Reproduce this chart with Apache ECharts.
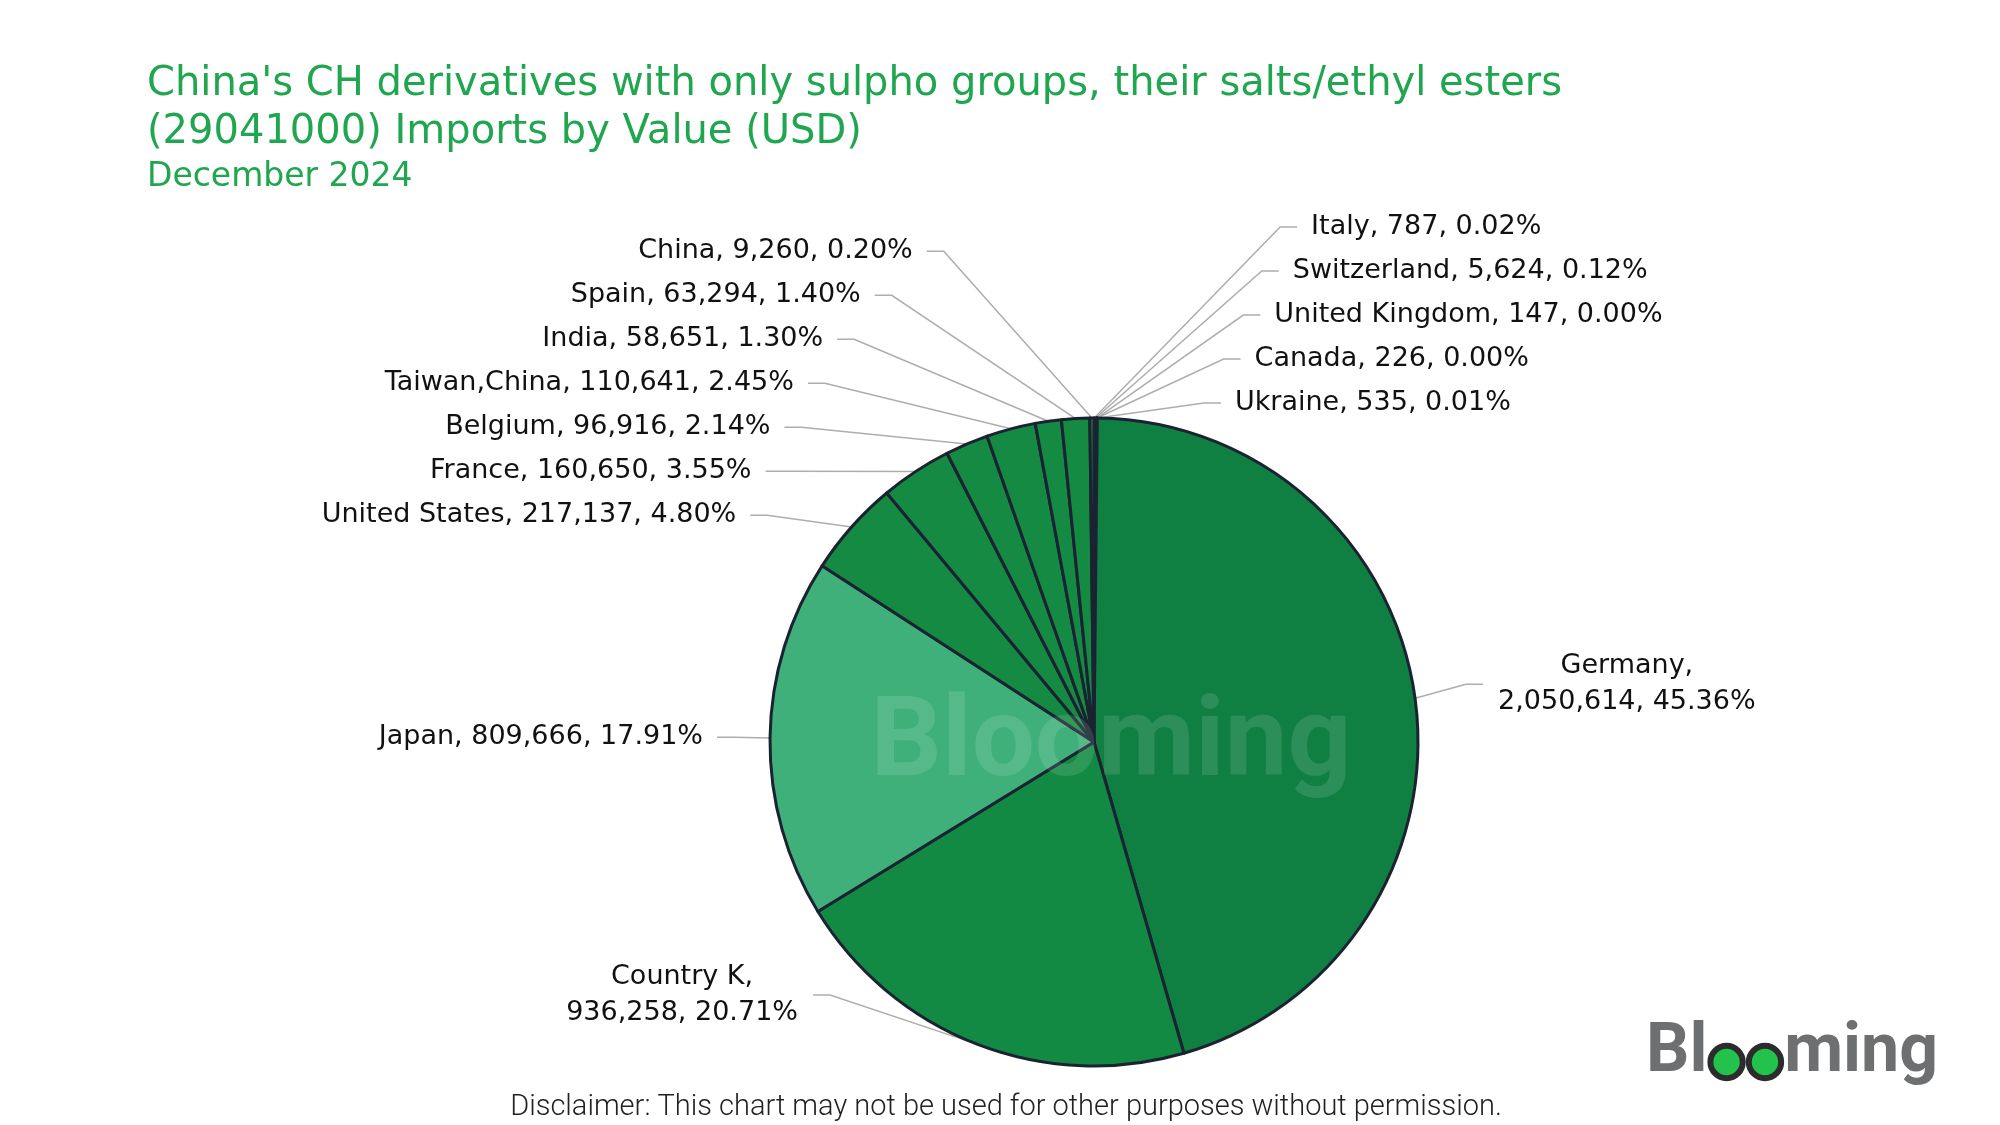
<!DOCTYPE html>
<html><head><meta charset="utf-8">
<script src="https://cdn.jsdelivr.net/npm/echarts@6/dist/echarts.min.js"></script>
<style>html,body{margin:0;padding:0;background:#fff}#c{width:2000px;height:1125px}</style>
</head><body><div id="c"></div>
<script>
const categories = ['Italy','Switzerland','United Kingdom','Canada','Ukraine','Germany','Country K','Japan','United States','France','Belgium','Taiwan,China','India','Spain','China'];
const values = [787,5624,147,226,535,2050614,936258,809666,217137,160650,96916,110641,58651,63294,9260];
const sliceColors = ['#178c45','#178c45','#178c45','#178c45','#178c45','#0f7f42','#128a43','#3fb07a','#148a42','#148a42','#148a42','#148a42','#148a42','#148a42','#148a42'];
const twoLineLabels = ['Germany','Country K'];
const titleLines = ["China's CH derivatives with only sulpho groups, their salts/ethyl esters", "(29041000) Imports by Value (USD)"];
const subTitle = 'December 2024';
const disclaimer = 'Disclaimer: This chart may not be used for other purposes without permission.';

const total = values.reduce((a, b) => a + b, 0);
const fmt = v => v.toLocaleString('en-US');
const pctText = v => (v / total * 100).toFixed(2) + '%';
const pieData = categories.map((n, i) => ({ name: n, value: values[i], itemStyle: { color: sliceColors[i] } }));

// ---- geometry of the pie (layout settings) ----
const CX = 1094, CY = 742, R = 324, START = 90;
const LABEL_FONT = '27px "DejaVu Sans"';
const ctx = document.createElement('canvas').getContext('2d');
ctx.font = LABEL_FONT;
const labelLines = categories.map((n, i) => twoLineLabels.includes(n)
  ? [n + ',', fmt(values[i]) + ', ' + pctText(values[i])]
  : [n + ', ' + fmt(values[i]) + ', ' + pctText(values[i])]);
const blockWidth = labelLines.map(ls => Math.ceil(Math.max(...ls.map(s => ctx.measureText(s).width))) + 2);

// label placement: natural radial position, overlapping labels on each side stacked
// as centred groups, x then follows an ellipse around the pie
const R1 = { '-1': 394, '1': 427 };
const RA = { '-1': 360, '1': 374 };
const RB_TOP = 540, RB_BOTTOM = 372;
const LEN2 = 17, GAP = 14, STEP = 44, STEP2 = 80;
const VIEW_TOP = 200, VIEW_BOTTOM = 1035;
const layout = [];
(function () {
  let cum = 0;
  const items = values.map((v, i) => {
    const mid = (START - 360 * (cum + v / 2) / total) * Math.PI / 180;
    cum += v;
    const cos = Math.cos(mid), sin = Math.sin(mid);
    const dir = cos >= 0 ? 1 : -1;
    return { i, cos, sin, dir,
      p0: [CX + R * cos, CY - R * sin], ny: CY - R1[dir] * sin,
      h: labelLines[i].length > 1 ? STEP2 : STEP,
      nearTop: Math.abs(cos) < 0.17 && sin > 0 };
  });
  [1, -1].forEach(dir => {
    const side = items.filter(it => it.dir === dir).sort((a, b) => a.ny - b.ny);
    let clusters = side.map(it => ({ items: [it] }));
    const place = c => {
      let off = 0, s = 0;
      c.items.forEach(it => { s += it.ny - (off + it.h / 2); off += it.h; });
      c.H = off;
      c.T = Math.max(VIEW_TOP, Math.min(VIEW_BOTTOM - c.H, s / c.items.length));
    };
    clusters.forEach(place);
    let changed = true;
    while (changed) {
      changed = false;
      for (let k = 0; k < clusters.length - 1; k++) {
        const a = clusters[k], b = clusters[k + 1];
        if (a.T + a.H > b.T + 0.01) {
          a.items = a.items.concat(b.items); place(a); clusters.splice(k + 1, 1); changed = true; break;
        }
      }
    }
    clusters.forEach(c => {
      let off = 0;
      c.items.forEach(it => {
        const y = c.T + off + it.h / 2; off += it.h;
        const dy = CY - y;
        const rb = dy >= 0 ? RB_TOP : RB_BOTTOM;
        let x1;
        if (dir > 0 && it.nearTop) {
          x1 = it.p0[0] + 100 + 0.45 * (it.p0[1] - y);
        } else {
          x1 = CX + dir * RA[dir] * Math.sqrt(Math.max(0, 1 - dy * dy / (rb * rb)));
        }
        const x2 = x1 + dir * LEN2;
        layout[it.i] = { x: x2 + dir * GAP, y, align: dir > 0 ? 'left' : 'right',
          pts: [it.p0.slice(), [x1, y], [x2, y]] };
      });
    });
  });
})();

// logo measuring
const logoFont = 'bold 68px Roboto';
ctx.font = logoFont;
const wBl = ctx.measureText('Bl').width;
const wO = ctx.measureText('o').width;
const logoX = 1646, logoY = 1054;

const chart = echarts.init(document.getElementById('c'));
chart.setOption({
  backgroundColor: '#fff',
  animation: false,
  title: {
    text: titleLines.join('\n'),
    subtext: subTitle,
    left: 142, top: 56,
    itemGap: 0,
    textStyle: { fontFamily: 'DejaVu Sans', fontSize: 40, fontWeight: 'normal', color: '#1fa64f', lineHeight: 48 },
    subtextStyle: { fontFamily: 'DejaVu Sans', fontSize: 33, color: '#1fa64f', lineHeight: 40 }
  },
  series: [{
    type: 'pie',
    center: [CX, CY],
    radius: R,
    startAngle: START,
    clockwise: true,
    avoidLabelOverlap: true,
    data: pieData,
    itemStyle: { borderColor: '#1b2333', borderWidth: 3 },
    label: {
      show: true,
      position: 'outer',
      fontFamily: 'DejaVu Sans',
      fontSize: 27,
      color: '#111',
      formatter: p => {
        const ls = labelLines[p.dataIndex];
        if (ls.length > 1) return ls.map(s => '{c' + p.dataIndex + '|' + s + '}').join('\n');
        return ls[0];
      },
      rich: Object.fromEntries(categories.map((n, i) => ['c' + i,
        { width: blockWidth[i], align: 'center', fontFamily: 'DejaVu Sans', fontSize: 27, color: '#111', lineHeight: 36 }]))
    },
    labelLine: { show: true, length: 25, length2: 17, lineStyle: { color: '#adadad', width: 1.5 } },
    labelLayout: p => {
      const L = layout[p.dataIndex];
      return { x: L.x, y: L.y, align: L.align, verticalAlign: 'middle', labelLinePoints: L.pts };
    },
    emphasis: { disabled: true }
  }],
  graphic: [
    { type: 'text', x: 1111, y: 747, z: 100, style: { text: 'Blooming', font: 'bold 112px Roboto', fill: 'rgba(255,255,255,0.12)', align: 'center', verticalAlign: 'middle' } },
    { type: 'text', x: logoX, y: logoY, z: 100, style: { text: 'Bl', font: logoFont, fill: '#6d6f70', verticalAlign: 'middle' } },
    { type: 'circle', z: 100, shape: { cx: logoX + wBl + wO / 2, cy: logoY + 8, r: wO / 2 - 3 }, style: { fill: '#22c24d', stroke: '#2c2c2c', lineWidth: 6 } },
    { type: 'circle', z: 100, shape: { cx: logoX + wBl + wO * 1.5, cy: logoY + 8, r: wO / 2 - 3 }, style: { fill: '#22c24d', stroke: '#2c2c2c', lineWidth: 6 } },
    { type: 'text', x: logoX + wBl + wO * 2, y: logoY, z: 100, style: { text: 'ming', font: logoFont, fill: '#6d6f70', verticalAlign: 'middle' } },
    { type: 'text', x: 1006, y: 1108, z: 100, style: { text: disclaimer, font: '300 29px Roboto', fill: '#222', align: 'center', verticalAlign: 'middle' } }
  ]
});
</script></body></html>
